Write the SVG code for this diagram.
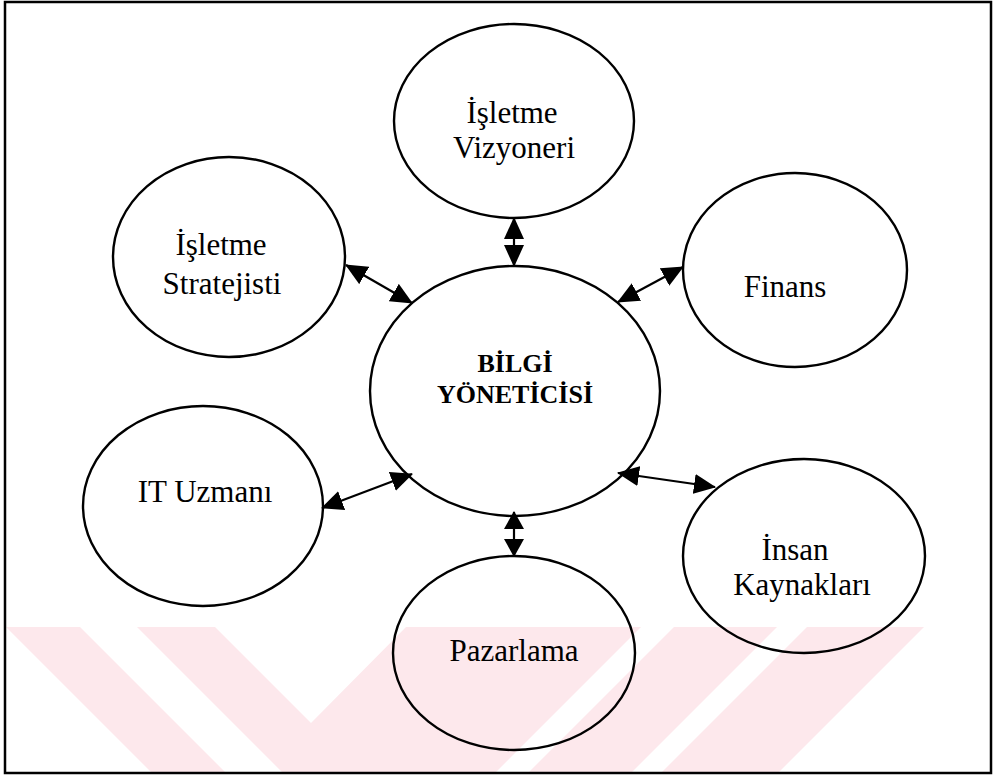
<svg xmlns="http://www.w3.org/2000/svg" width="994" height="778" viewBox="0 0 994 778">
  <style>
    .node { fill: none; stroke: #000; stroke-width: 2.4; }
    .lbl { font-family: "Liberation Serif", "Times New Roman", serif; font-size: 31px; fill: #000; text-anchor: middle; }
    .hub { font-family: "Liberation Serif", "Times New Roman", serif; font-size: 26px; font-weight: bold; fill: #000; text-anchor: middle; }
    .link { stroke: #000; stroke-width: 2.2; fill: none; marker-start: url(#head); marker-end: url(#head); }
    .wm { fill: #fde8ec; }
  </style>
  <defs>
    <marker id="head" viewBox="0 0 22 20" refX="21" refY="10" markerWidth="22" markerHeight="20" markerUnits="userSpaceOnUse" orient="auto-start-reverse">
      <path d="M0,0 L22,10 L0,20 z" fill="#000"/>
    </marker>
    <marker id="headS" viewBox="0 0 18 20" refX="17" refY="10" markerWidth="18" markerHeight="20" markerUnits="userSpaceOnUse" orient="auto-start-reverse">
      <path d="M0,0 L18,10 L0,20 z" fill="#000"/>
    </marker>
  </defs>

  <rect width="994" height="778" fill="#fff"/>

  <!-- background stripe pattern along the bottom -->
  <g id="watermark">
    <polygon class="wm" points="6,627 80,627 225,772 151,772 6,627"/>
    <polygon class="wm" points="137,627 215,627 311,723 406,627 641,627 496,772 282,772"/>
    <polygon class="wm" points="674,627 777,627 632,772 529,772"/>
    <polygon class="wm" points="807,627 924,627 779,772 662,772"/>
  </g>

  <!-- frame -->
  <rect x="5" y="2" width="986" height="771" fill="none" stroke="#000" stroke-width="2.5"/>

  <g id="connectors">
    <line class="link" x1="514" y1="218" x2="514" y2="266"/>
    <line class="link" x1="346" y1="265" x2="412" y2="303"/>
    <line class="link" x1="683" y1="267" x2="618" y2="302"/>
    <line class="link" x1="322" y1="508" x2="412" y2="474"/>
    <line class="link" x1="618" y1="473" x2="715" y2="487"/>
    <line class="link" style="marker-start:url(#headS);marker-end:url(#headS)" x1="514" y1="512" x2="514" y2="556"/>
  </g>

  <g id="n_vizyoner">
    <ellipse class="node" cx="514" cy="121" rx="120" ry="97"/>
    <text class="lbl" x="512" y="123">İşletme</text>
    <text class="lbl" x="514" y="158">Vizyoneri</text>
  </g>

  <g id="n_strateji">
    <ellipse class="node" cx="229" cy="257" rx="116" ry="100"/>
    <text class="lbl" x="221" y="255">İşletme</text>
    <text class="lbl" x="222" y="294">Stratejisti</text>
  </g>

  <g id="n_finans">
    <ellipse class="node" cx="795" cy="270" rx="112" ry="97"/>
    <text class="lbl" x="785" y="297">Finans</text>
  </g>

  <g id="n_bilgi">
    <ellipse class="node" cx="515" cy="391" rx="145" ry="125"/>
    <text class="hub" x="515" y="372">BİLGİ</text>
    <text class="hub" x="515" y="403">YÖNETİCİSİ</text>
  </g>

  <g id="n_it">
    <ellipse class="node" cx="203" cy="506" rx="120" ry="100"/>
    <text class="lbl" x="205" y="502">IT Uzmanı</text>
  </g>

  <g id="n_insan">
    <ellipse class="node" cx="804" cy="556" rx="121" ry="97"/>
    <text class="lbl" x="795" y="560">İnsan</text>
    <text class="lbl" x="802" y="595">Kaynakları</text>
  </g>

  <g id="n_pazarlama">
    <ellipse class="node" cx="514" cy="653" rx="121" ry="97"/>
    <text class="lbl" x="514" y="661">Pazarlama</text>
  </g>
</svg>
